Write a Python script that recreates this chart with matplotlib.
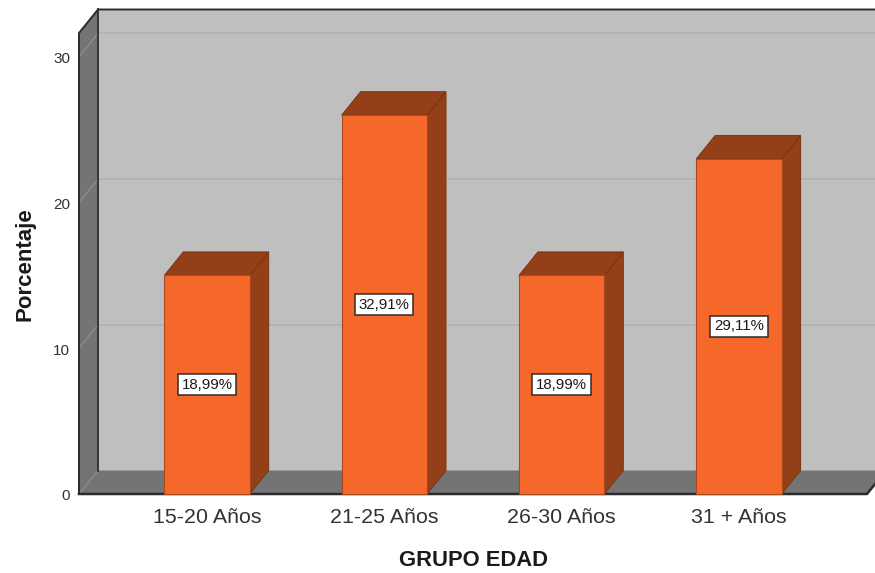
import matplotlib
matplotlib.use("Agg")
import matplotlib.pyplot as plt
from matplotlib.patches import Polygon
from matplotlib.transforms import ScaledTranslation

plt.rcParams["font.family"] = ["Liberation Sans", "DejaVu Sans"]

# Survey results by age group
categories = ["15-20 Años", "21-25 Años", "26-30 Años", "31 + Años"]
percentages = [18.99, 32.91, 18.99, 29.11]
value_labels = ["18,99%", "32,91%", "18,99%", "29,11%"]
tick_labels = [0, 10, 20, 30]
respondents = 79  # the vertical scale is graduated in respondents out of this total

W, H = 875, 573
fig = plt.figure(figsize=(W / 100, H / 100), dpi=100, facecolor="white")

# Axes span the front plane of the 3D box
left_px, right_px, base_px, top_px = 79, 867, 494, 33
ax = fig.add_axes([left_px / W, 1 - base_px / H,
                   (right_px - left_px) / W, (base_px - top_px) / H])

STEP_PX = 177.3
PCT_PX = 14.57 * respondents / 100
CENTER0_PX = 207
ax.set_xlim((left_px - CENTER0_PX) / STEP_PX, (right_px - CENTER0_PX) / STEP_PX)
ax.set_ylim(0, (base_px - top_px) / PCT_PX)
xmin, xmax = ax.get_xlim()
ymin, ymax = ax.get_ylim()

# Extrusion of the box and bars, in data units
dx = 19 / STEP_PX
dy = 23.5 / PCT_PX
bar_half = 42.7 / STEP_PX

WALL = "#bfbfbf"
SIDE = "#747474"
DARK = "#2b2b2b"
FRONT = "#f5682a"
SHADE = "#933f18"


def face(points, color, edge="none", lw=0.0, z=1):
    ax.add_patch(Polygon(points, closed=True, facecolor=color, edgecolor=edge,
                         linewidth=lw, clip_on=False, zorder=z))


def rule(xs, ys, color=DARK, lw=1.6, z=2):
    ax.plot(xs, ys, color=color, lw=lw, clip_on=False, zorder=z,
            solid_capstyle="projecting")


# Box: back wall, left side and floor
face([(xmin + dx, ymin + dy), (xmax + dx, ymin + dy),
      (xmax + dx, ymax + dy), (xmin + dx, ymax + dy)], WALL)
face([(xmin, ymin), (xmin + dx, ymin + dy), (xmin + dx, ymax + dy), (xmin, ymax)], SIDE)
face([(xmin, ymin), (xmax, ymin), (xmax + dx, ymin + dy), (xmin + dx, ymin + dy)], SIDE)

# Gridlines run along the side wall and across the back wall
tick_positions = [t * 100 / respondents for t in tick_labels]
for pos in tick_positions[1:]:
    rule([xmin, xmin + dx], [pos, pos + dy], color="#8f8f8f", lw=0.9, z=1.5)
    rule([xmin + dx, xmax + dx], [pos + dy, pos + dy], color="#b0b0b0", lw=1.1, z=1.5)
rule([xmin, xmin + dx], [ymin, ymin + dy], color="#8f8f8f", lw=0.8, z=1.5)

# Box outline: the wall meets the floor without a rule
rule([xmin, xmin, xmin + dx, xmax + dx], [ymin, ymax, ymax + dy, ymax + dy], lw=1.4)
rule([xmin + dx, xmin + dx], [ymax + dy, ymin + dy], lw=1.3)
rule([xmin, xmax, xmax + dx], [ymin, ymin, ymin + dy], lw=1.8, z=2)

# Extruded bars with their value tags
for i, (pct, tag) in enumerate(zip(percentages, value_labels)):
    x0, x1 = i - bar_half, i + bar_half
    face([(x1, 0), (x1 + dx, dy), (x1 + dx, pct + dy), (x1, pct)], SHADE, "#7a3514", 0.7, 3)
    face([(x0, pct), (x1, pct), (x1 + dx, pct + dy), (x0 + dx, pct + dy)], SHADE, "#7a3514", 0.7, 3)
    face([(x0, 0), (x1, 0), (x1, pct), (x0, pct)], FRONT, "#a8491f", 0.8, 4)
    ax.text(i, pct / 2, tag, ha="center", va="center", fontsize=10.8, color="#1a1a1a", zorder=5,
            bbox=dict(boxstyle="square,pad=0.25", facecolor="white",
                      edgecolor="#2b2b2b", linewidth=1.1))

# Axis text
for side in ax.spines.values():
    side.set_visible(False)
ax.patch.set_visible(False)
ax.set_yticks(tick_positions)
ax.set_yticklabels(tick_labels, fontsize=11, color="#333333", va="center")
ax.set_xticks(range(len(categories)))
ax.set_xticklabels(categories, fontsize=15.4, color="#333333")
ax.tick_params(axis="y", length=0, pad=6.5)
ax.tick_params(axis="x", length=0, pad=10)

# Nudge the scale numbers just below their gridline ends
nudge = ScaledTranslation(0, -2.5 / 100, fig.dpi_scale_trans)
for lab in ax.get_yticklabels():
    lab.set_transform(lab.get_transform() + nudge)

fig.text(473.5 / W, 1 - 560 / H, "GRUPO EDAD", ha="center", va="center",
         fontsize=15.8, fontweight="bold", color="#1a1a1a")
fig.text(25 / W, 1 - 264 / H, "Porcentaje", ha="center", va="center", rotation=90,
         fontsize=16, fontweight="bold", color="#1a1a1a")

fig.savefig("out.png", dpi=100)
